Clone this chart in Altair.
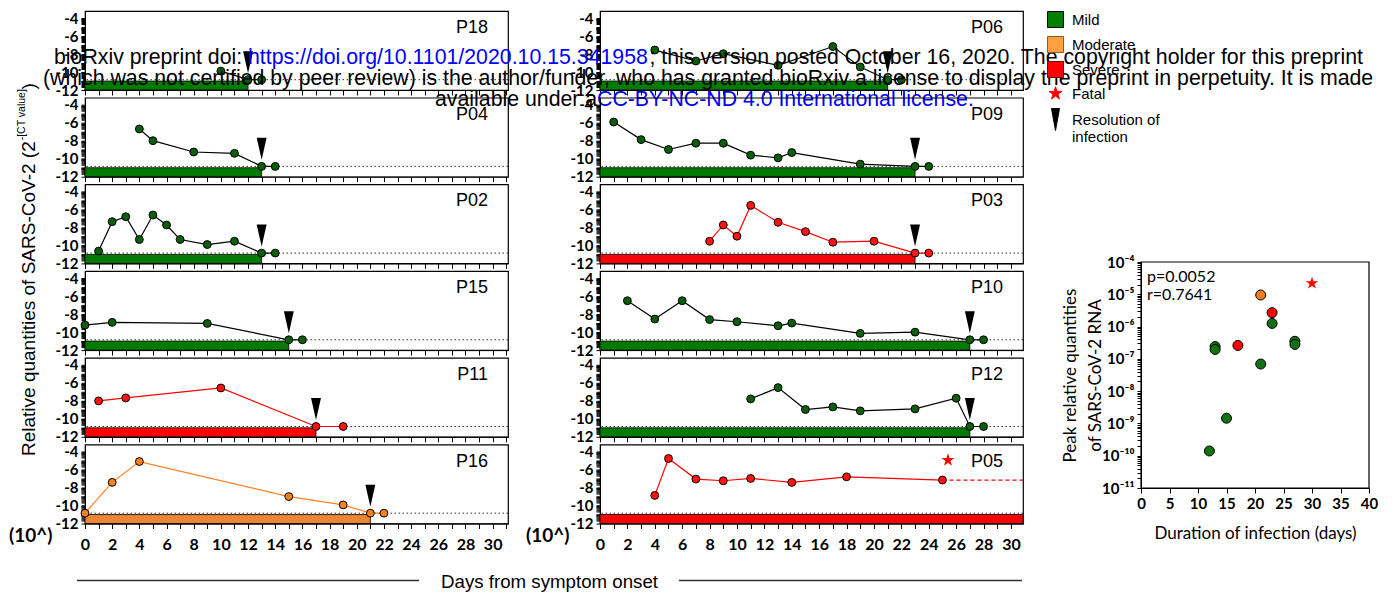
import math
import altair as alt
import pandas as pd

# ---------------- panel data: day from symptom onset, log10 relative quantity ----------------
P18_days = [10, 12, 13]
P18_vals = [-9.9, -10.85, -10.85]
P04_days = [4, 5, 8, 11, 13, 14]
P04_vals = [-6.68, -7.99, -9.25, -9.4, -10.85, -10.85]
P02_days = [1, 2, 3, 4, 5, 6, 7, 9, 11, 13, 14]
P02_vals = [-10.63, -7.35, -6.8, -9.34, -6.61, -7.72, -9.34, -9.9, -9.53, -10.85, -10.85]
P15_days = [0, 2, 9, 15, 16]
P15_vals = [-9.21, -8.91, -9.03, -10.85, -10.85]
P11_days = [1, 3, 10, 17, 19]
P11_vals = [-8.0, -7.67, -6.56, -10.85, -10.85]
P16_days = [0, 2, 4, 15, 19, 21, 22]
P16_vals = [-10.85, -7.42, -5.1, -9.0, -9.93, -10.85, -10.85]
P06_days = [4, 7, 9, 13, 17, 19, 21, 22]
P06_vals = [-7.55, -8.77, -7.96, -9.25, -7.16, -9.43, -10.85, -10.85]
P09_days = [1, 3, 5, 7, 9, 11, 13, 14, 19, 23, 24]
P09_vals = [-5.91, -7.87, -8.97, -8.27, -8.27, -9.6, -9.9, -9.31, -10.6, -10.85, -10.85]
P03_days = [8, 9, 10, 11, 13, 15, 17, 20, 23, 24]
P03_vals = [-9.53, -7.72, -8.97, -5.54, -7.42, -8.46, -9.64, -9.53, -10.85, -10.85]
P10_days = [2, 4, 6, 8, 10, 13, 14, 19, 23, 27, 28]
P10_vals = [-6.5, -8.54, -6.5, -8.6, -8.84, -9.29, -8.99, -10.14, -10.0, -10.85, -10.85]
P12_days = [11, 13, 15, 17, 19, 23, 26, 27, 28]
P12_vals = [-7.78, -6.52, -8.96, -8.67, -9.11, -8.89, -7.7, -10.85, -10.85]
P05_days = [4, 5, 7, 9, 11, 14, 18, 25]
P05_vals = [-8.87, -4.76, -7.05, -7.24, -6.98, -7.42, -6.8, -7.16]
P05_STAR_DAY = 25.4
P05_STAR_VAL = -4.95

LEFT_IDS = ["P18", "P04", "P02", "P15", "P11", "P16"]
RIGHT_IDS = ["P06", "P09", "P03", "P10", "P12", "P05"]
SEVERITY = {"P18": "Mild", "P04": "Mild", "P02": "Mild", "P15": "Mild", "P11": "Severe",
            "P16": "Moderate", "P06": "Mild", "P09": "Mild", "P03": "Severe", "P10": "Mild",
            "P12": "Mild", "P05": "Severe"}
RESOLUTION = {"P18": 12, "P04": 13, "P02": 13, "P15": 15, "P11": 17, "P16": 21,
              "P06": 21, "P09": 23, "P03": 23, "P10": 27, "P12": 27, "P05": None}
DAYS = {"P18": P18_days, "P04": P04_days, "P02": P02_days, "P15": P15_days, "P11": P11_days,
        "P16": P16_days, "P06": P06_days, "P09": P09_days, "P03": P03_days, "P10": P10_days,
        "P12": P12_days, "P05": P05_days}
VALS = {"P18": P18_vals, "P04": P04_vals, "P02": P02_vals, "P15": P15_vals, "P11": P11_vals,
        "P16": P16_vals, "P06": P06_vals, "P09": P09_vals, "P03": P03_vals, "P10": P10_vals,
        "P12": P12_vals, "P05": P05_vals}

# ---------------- scatter data ----------------
SC_DUR = [12, 13, 13, 15, 21, 23, 27, 27, 17, 21, 23, 30]
SC_PEAK = [1.4e-10, 2.4e-7, 1.95e-7, 1.45e-9, 6.9e-8, 1.25e-6, 3.5e-7, 2.8e-7, 2.6e-7, 9.5e-6, 2.7e-6, 2.2e-5]
SC_SEV = ["Mild", "Mild", "Mild", "Mild", "Mild", "Mild", "Mild", "Mild", "Severe", "Moderate", "Severe", "Fatal"]
SC_P_TEXT = "p=0.0052"
SC_R_TEXT = "r=0.7641"

LEG_CATS = ["Mild", "Moderate", "Severe", "Fatal", "Resolution of infection"]

# ---------------- style ----------------
FONT = "Liberation Sans"
CAL = "Lato"
W, H = 423, 79
GAP = 7.7
XMAX_L, XMAX_R = 31.13, 30.88
YDOM = [-12, -3.2]
LOD = -10.85
BAR_TOP = -11.0
ARROW_Y = -8.9

DOT = {"Mild": "#0b5e0b", "Moderate": "#f5821f", "Severe": "#ff1414"}
LINE = {"Mild": "#000000", "Moderate": "#ff7f27", "Severe": "#ff0000"}
BAR = {"Mild": "#007a00", "Moderate": "#ee8533", "Severe": "#ff0000"}
SC_FILL = {"Mild": "#137013", "Moderate": "#f07d1e", "Severe": "#ff0000", "Fatal": "#ff0000"}

ARROW_PATH = "M-0.45,-1L0.45,-1L0,1Z"
LEG_ARROW_PATH = "M-0.5,-1.375L0.5,-1.375L0,1.375Z"


def star_path(r=0.85, ratio=0.382):
    pts = []
    for i in range(10):
        a = math.radians(-90 + 36 * i)
        rr = r if i % 2 == 0 else r * ratio
        pts.append(f"{rr * math.cos(a):.3f},{rr * math.sin(a):.3f}")
    return "M" + "L".join(pts) + "Z"


STAR = star_path()

Y_TICKS = [float(v) for v in range(-12, -3)] + [round(n + math.log10(k), 4) for n in range(-12, -4) for k in range(2, 10)]
Y_LABEL_EXPR = ("abs(datum.value - round(datum.value)) < 0.001 && round(datum.value) % 2 == 0"
                " ? toString(round(datum.value)) : ''")


def y_axis():
    return alt.Axis(values=Y_TICKS, labelExpr=Y_LABEL_EXPR, title=None, grid=False, tickSize=4,
                    labelOverlap=False, labelFlush=False, labelPadding=3, labelFont=CAL,
                    labelFontWeight="bold", labelFontSize=15)


def x_axis(xmax, labels):
    vals = [d for d in range(0, 32) if d <= xmax]
    kw = dict(values=vals, title=None, grid=False, tickSize=5, labels=labels,
              labelFlush=False, labelOverlap=False)
    if labels:
        kw.update(labelExpr="datum.value % 2 == 0 ? datum.label : ''", labelFont=CAL,
                  labelFontWeight="bold", labelFontSize=16, labelPadding=8)
    return alt.Axis(**kw)


def txt(text, x, y, **kw):
    return alt.Chart(pd.DataFrame({"t": [text]})).mark_text(**kw).encode(
        x=alt.value(x), y=alt.value(y), text="t:N")


def panel(pid, xmax, bottom, extras_fn=None):
    sev = SEVERITY[pid]
    xs = alt.Scale(domain=[0, xmax], nice=False, zero=False)
    ys = alt.Scale(domain=YDOM, nice=False, zero=False)
    xa = x_axis(xmax, bottom)
    ya = y_axis()
    pts = pd.DataFrame({"day": DAYS[pid], "val": VALS[pid]})
    res = RESOLUTION[pid]

    bar_df = pd.DataFrame({"start": [0], "lo": [-12], "hi": [BAR_TOP]})
    enc = dict(x=alt.X("start:Q", scale=xs, axis=xa), y=alt.Y("lo:Q", scale=ys, axis=ya), y2="hi")
    if res is not None:
        bar_df["end"] = [res]
        enc["x2"] = alt.X2("end")
    else:
        enc["x2"] = alt.value(W)
    bar = alt.Chart(bar_df).mark_rect(fill=BAR[sev], stroke="black", strokeWidth=0.8).encode(**enc)

    lod = alt.Chart(pd.DataFrame({"lod": [LOD]})).mark_rule(
        color="#333333", strokeDash=[1.5, 2.5], strokeWidth=1).encode(
        y=alt.Y("lod:Q", scale=ys, axis=ya))

    line = alt.Chart(pts).mark_line(color=LINE[sev], strokeWidth=1.2).encode(
        x=alt.X("day:Q", scale=xs, axis=xa), y=alt.Y("val:Q", scale=ys, axis=ya))
    dots = alt.Chart(pts).mark_circle(size=62, fill=DOT[sev], stroke="black", strokeWidth=1,
                                      opacity=1).encode(
        x=alt.X("day:Q", scale=xs, axis=xa), y=alt.Y("val:Q", scale=ys, axis=ya))
    layers = [bar, lod, line, dots]
    if res is not None:
        arr = alt.Chart(pd.DataFrame({"day": [res], "y": [ARROW_Y]})).mark_point(
            shape=ARROW_PATH, filled=True, color="black", size=484, opacity=1).encode(
            x=alt.X("day:Q", scale=xs, axis=xa), y=alt.Y("y:Q", scale=ys, axis=ya))
        layers.append(arr)
    layers.append(txt(pid, W - 20, 17, align="right", baseline="middle", font=FONT,
                      fontSize=18, color="black"))
    if extras_fn is not None:
        layers.extend(extras_fn(xs, ys, xa, ya))
    return alt.layer(*layers).properties(width=W, height=H)


# ---------- extras ----------
def p18_extras(xs, ys, xa, ya):
    bounds_rule = alt.Chart(pd.DataFrame({"a": [0]})).mark_rule(opacity=0, strokeWidth=0.01).encode(
        x=alt.value(-76), x2=alt.value(-75), y=alt.value(-2), y2=alt.value(-1))
    return [
        bounds_rule,
        txt("Relative quantities of SARS-CoV-2 (2", -56, 445, angle=270, align="left",
            baseline="middle", font=FONT, fontSize=19, color="black"),
        txt("-[CT value]", -63, 129.3, angle=270, align="left", baseline="middle",
            font=FONT, fontSize=10.5, color="black"),
        txt(")", -56, 78.5, angle=270, align="left", baseline="middle", font=FONT,
            fontSize=19, color="black"),
    ]


def p16_extras(xs, ys, xa, ya):
    return [
        txt("(10^)", -76, 97, align="left", baseline="alphabetic", font=CAL, fontWeight="bold",
            fontSize=19, color="black"),
        txt("Days from symptom onset", 356, 143, align="left", baseline="alphabetic", font=FONT,
            fontSize=18.7, color="black"),
        alt.Chart(pd.DataFrame({"a": [0]})).mark_rule(color="#333333", strokeWidth=1.5).encode(
            x=alt.value(-8), x2=alt.value(334), y=alt.value(136)),
        alt.Chart(pd.DataFrame({"a": [0]})).mark_rule(color="#333333", strokeWidth=1.5).encode(
            x=alt.value(594), x2=alt.value(937), y=alt.value(136)),
    ]


def p05_extras(xs, ys, xa, ya):
    return [
        txt("(10^)", -74, 97, align="left", baseline="alphabetic", font=CAL, fontWeight="bold",
            fontSize=19, color="black"),
        alt.Chart(pd.DataFrame({"day": [P05_days[-1]], "val": [P05_vals[-1]]})).mark_rule(
            color="#ff0000", strokeDash=[4, 3], strokeWidth=1.2).encode(
            x=alt.X("day:Q", scale=xs, axis=xa), x2=alt.value(W),
            y=alt.Y("val:Q", scale=ys, axis=ya)),
        alt.Chart(pd.DataFrame({"day": [P05_STAR_DAY], "val": [P05_STAR_VAL]})).mark_point(
            shape=STAR, filled=True, color="#ff0000", size=259, opacity=1).encode(
            x=alt.X("day:Q", scale=xs, axis=xa), y=alt.Y("val:Q", scale=ys, axis=ya)),
    ]


EXTRAS = {"P18": p18_extras, "P16": p16_extras, "P05": p05_extras}

left_panels = [panel(pid, XMAX_L, i == len(LEFT_IDS) - 1, EXTRAS.get(pid))
               for i, pid in enumerate(LEFT_IDS)]
right_panels = [panel(pid, XMAX_R, i == len(RIGHT_IDS) - 1, EXTRAS.get(pid))
                for i, pid in enumerate(RIGHT_IDS)]

# ---------------- third column: legend + scatter + watermark (one cell) ----------------
SW = 228
OX, OY = 1140, 10            # page position of this cell's origin
SC_TOP, SC_BOT = 261 - OY, 487 - OY

sxs = alt.Scale(domain=[0, 40], nice=False, zero=False)
sys_ = alt.Scale(type="log", domain=[1e-11, 1e-4], nice=False, range=[SC_BOT, SC_TOP])
SUP = str.maketrans("-0123456789", "\u207b\u2070\u00b9\u00b2\u00b3\u2074\u2075\u2076\u2077\u2078\u2079")
E = "round(log(datum.value)/LN10)"
lab = "''"
for e in range(-11, -3):
    lab = f"({E} == {e} ? '10{str(e).translate(SUP)}' : {lab})"
sc_ylab = f"abs(log(datum.value)/LN10 - {E}) < 0.01 ? {lab} : ''"
sc_yticks = [k * 10.0 ** n for n in range(-11, -4) for k in range(1, 10)] + [1e-4]

sxa = alt.Axis(values=list(range(0, 41, 5)), title="Duration of infection (days)", titleFont=CAL,
               titleFontSize=17, titleFontWeight="normal", titlePadding=14, labelFont=CAL,
               labelFontWeight="bold", labelFontSize=15, grid=False, tickSize=5, labelPadding=3,
               labelFlush=False, titleColor="black", orient="bottom", offset=SC_BOT - H)
sya = alt.Axis(values=sc_yticks, labelExpr=sc_ylab, title=["Peak relative quantities", "of SARS-CoV-2 RNA"],
               titleFont=CAL, titleFontSize=17, titleFontWeight="normal", titlePadding=-3,
               titleLineHeight=25,
               labelFont=CAL, labelFontWeight="bold", labelFontSize=15, grid=False, tickSize=4,
               labelOverlap=False, labelFlush=False, labelPadding=3, titleColor="black",
               orient="left")

sc = pd.DataFrame({"dur": SC_DUR, "peak": SC_PEAK, "sev": SC_SEV})
sc["fill"] = sc["sev"].map(SC_FILL)

frame = alt.Chart(pd.DataFrame({"a": [0]})).mark_rect(
    fillOpacity=0, stroke="black", strokeWidth=1.2).encode(
    x=alt.value(0), x2=alt.value(SW), y=alt.value(SC_TOP), y2=alt.value(SC_BOT))
circles = alt.Chart(sc).transform_filter("datum.sev != 'Fatal'").mark_circle(
    size=100, stroke="black", strokeWidth=1, opacity=1).encode(
    x=alt.X("dur:Q", scale=sxs, axis=sxa), y=alt.Y("peak:Q", scale=sys_, axis=sya),
    fill=alt.Fill("fill:N", scale=None))
stars = alt.Chart(sc).transform_filter("datum.sev == 'Fatal'").mark_point(
    shape=STAR, filled=True, color="#ff0000", size=240, opacity=1).encode(
    x=alt.X("dur:Q", scale=sxs, axis=sxa), y=alt.Y("peak:Q", scale=sys_, axis=sya))

# legend (clipped placeholder marks; the legend itself is what shows)
LEG_X, LEG_Y = 1046 - 84, 10 - 10   # relative to the chart root (first panel origin)
leg_df = pd.DataFrame({"cat": LEG_CATS, "x": [-30.0] * 5, "y": [1e-5] * 5})
leg_common = dict(orient="none", legendX=LEG_X, legendY=LEG_Y, title=None, labelFont=FONT,
                  labelFontSize=15, labelColor="black", symbolSize=256, symbolStrokeWidth=1,
                  rowPadding=4, labelOffset=8, padding=0,
                  labelExpr="datum.label == 'Resolution of infection' ? ['Resolution of', 'infection'] : datum.label")
legend_layer = alt.Chart(leg_df).mark_point(filled=True, clip=True, size=256, opacity=1,
                                             strokeWidth=1).encode(
    x=alt.X("x:Q", scale=sxs, axis=sxa),
    y=alt.Y("y:Q", scale=sys_, axis=sya),
    fill=alt.Fill("cat:N", scale=alt.Scale(domain=LEG_CATS,
                                          range=["#008000", "#ffa040", "#ff0000", "#ff0000", "#000000"]),
                  legend=alt.Legend(**leg_common)),
    stroke=alt.Stroke("cat:N", scale=alt.Scale(domain=LEG_CATS,
                                              range=["#000000", "#8b5a2b", "#800000", "#ff0000", "#000000"]),
                      legend=alt.Legend(**leg_common)),
    shape=alt.Shape("cat:N", scale=alt.Scale(domain=LEG_CATS,
                                            range=["square", "square", "square", STAR, LEG_ARROW_PATH]),
                    legend=alt.Legend(**leg_common)),
)

WM = 21.3
wm = [
    txt("bioRxiv preprint doi: ", 53 - OX, 63 - OY, align="left", baseline="alphabetic", font=FONT, fontSize=WM, color="black"),
    txt("https://doi.org/10.1101/2020.10.15.341958", 247 - OX, 63 - OY, align="left", baseline="alphabetic", font=FONT, fontSize=WM, color="#0000ff"),
    txt("; this version posted October 16, 2020. The copyright holder for this preprint", 648.5 - OX, 63 - OY, align="left", baseline="alphabetic", font=FONT, fontSize=WM, color="black"),
    txt("(which was not certified by peer review) is the author/funder, who has granted bioRxiv a license to display the preprint in perpetuity. It is made", 42 - OX, 84 - OY, align="left", baseline="alphabetic", font=FONT, fontSize=WM, color="black"),
    txt("available under a", 434 - OX, 105 - OY, align="left", baseline="alphabetic", font=FONT, fontSize=WM, color="black"),
    txt("CC-BY-NC-ND 4.0 International license.", 596 - OX, 105 - OY, align="left", baseline="alphabetic", font=FONT, fontSize=WM, color="#0000ff"),
]
side = alt.layer(
    frame, legend_layer, circles, stars,
    txt(SC_P_TEXT, 6, SC_TOP + 15, align="left", baseline="middle", font=CAL, fontSize=16, color="black"),
    txt(SC_R_TEXT, 6, SC_TOP + 33, align="left", baseline="middle", font=CAL, fontSize=16, color="black"),
    *wm,
).properties(width=SW, height=H, view=alt.ViewBackground(strokeOpacity=0))


def dummy(w):
    return alt.Chart(pd.DataFrame({"a": [0]})).mark_point(opacity=0, size=1).encode(
        x=alt.value(0), y=alt.value(0)).properties(width=w, height=1,
                                                   view=alt.ViewBackground(strokeOpacity=0))


# grid: [left panel, gap, right panel, gap, third column]
cells = []
for r in range(6):
    cells += [left_panels[r], dummy(92), right_panels[r], dummy(118), side if r == 0 else dummy(1)]

chart = alt.concat(*cells, columns=5, bounds="flush",
                   spacing={"row": GAP, "column": 0}).properties(padding=0).configure_view(
    stroke="black", strokeWidth=1.2).configure_axis(
    domainColor="black", tickColor="black", labelColor="black", domainWidth=1, tickWidth=1)

chart.save("out.html", embed_options={"renderer": "svg", "actions": False})
